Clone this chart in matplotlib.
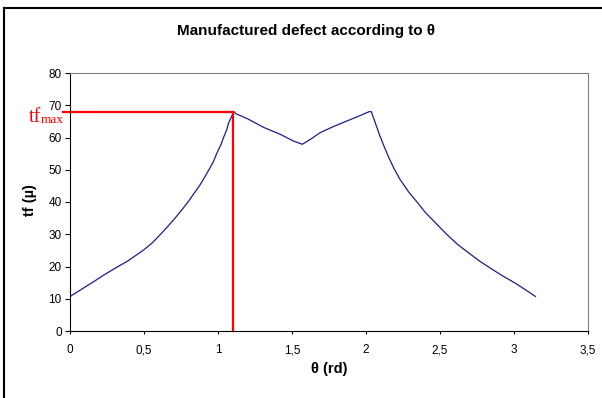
import matplotlib
matplotlib.use("Agg")
import matplotlib.pyplot as plt
from matplotlib.lines import Line2D
from matplotlib.ticker import FuncFormatter

# values
theta = [0.0, 0.08, 0.16, 0.23, 0.31, 0.39, 0.45, 0.50, 0.56, 0.61, 0.66, 0.71,
         0.76, 0.80, 0.84, 0.88, 0.91, 0.94, 0.97, 0.99, 1.02, 1.04, 1.06, 1.07,
         1.09, 1.107, 1.12, 1.20, 1.31, 1.42, 1.51, 1.57, 1.63, 1.69, 1.78, 1.87,
         1.95, 2.02, 2.036, 2.05, 2.07, 2.09, 2.12, 2.15, 2.19, 2.23, 2.29, 2.35,
         2.40, 2.46, 2.54, 2.62, 2.70, 2.77, 2.85, 2.93, 3.01, 3.08, 3.145]
tf = [10.7, 13.0, 15.3, 17.4, 19.6, 21.7, 23.6, 25.2, 27.5, 29.9, 32.4, 35.0,
      37.8, 40.2, 42.8, 45.4, 47.7, 50.1, 52.6, 54.9, 57.8, 60.3, 62.5, 64.3,
      66.3, 68.0, 67.4, 65.8, 63.1, 61.0, 58.9, 57.9, 59.6, 61.5, 63.4, 65.1,
      66.6, 68.0, 68.0, 66.2, 63.6, 61.0, 57.5, 54.2, 50.3, 47.0, 43.0, 39.7,
      36.8, 34.0, 30.2, 26.8, 24.0, 21.6, 19.2, 16.9, 14.8, 12.7, 10.7]
theta_max = 1.1
tf_max = 68.0

xticks = [0, 0.5, 1, 1.5, 2, 2.5, 3, 3.5]
yticks = [0, 10, 20, 30, 40, 50, 60, 70, 80]

plt.rcParams['font.family'] = ['Liberation Sans', 'DejaVu Sans']

W, H = 602, 398
fig = plt.figure(figsize=(W/100, H/100), dpi=100)
ax = fig.add_axes([70/W, 1-331/H, 518/W, 258/H])

ax.plot(theta, tf, color='#1c1c8e', linewidth=0.9)

# tf max markers
ax.plot([theta_max, theta_max], [0, tf_max], color='#ff0000', linewidth=1.6, clip_on=False)
ax.plot([-0.05, theta_max], [tf_max, tf_max], color='#ff0000', linewidth=1.6, clip_on=False)
fig.text(41/W, 1-122/H, 'tf', color='#ff0000', ha='right', va='baseline',
         fontsize=14.5, family='Liberation Serif')
fig.text(41/W, 1-123/H, 'max', color='#ff0000', ha='left', va='baseline',
         fontsize=9.5, family='Liberation Serif')

ax.set_xlim(0, 3.5)
ax.set_ylim(0, 80)
ax.set_xticks(xticks)
ax.set_yticks(yticks)
ax.xaxis.set_major_formatter(FuncFormatter(lambda v, p: ('%g' % v).replace('.', ',')))
ax.tick_params(labelsize=8.5, width=0.8, direction='out')
ax.tick_params(axis='x', length=2.5, pad=7)
ax.tick_params(axis='y', length=3.5, pad=2.5)
for s in ['top', 'right']:
    ax.spines[s].set_color('#808080')
for s in ['left', 'bottom']:
    ax.spines[s].set_color('black')

fig.text(306/W, 1-31/H, 'Manufactured defect according to θ', fontsize=11,
         fontweight='bold', ha='center', va='center')
fig.text(329/W, 1-369/H, 'θ (rd)', fontsize=10.5, fontweight='bold', ha='center', va='center')
fig.text(30/W, 1-200/H, 'tf (µ)', fontsize=10.5, fontweight='bold', ha='center', va='center',
         rotation=90)

# chart frame (top and left edges visible)
fig.add_artist(Line2D([4/W, 1], [1-8/H, 1-8/H], color='black', linewidth=1.5))
fig.add_artist(Line2D([4/W, 4/W], [0, 1-8/H], color='black', linewidth=1.5))

fig.savefig('out.png', dpi=100)
